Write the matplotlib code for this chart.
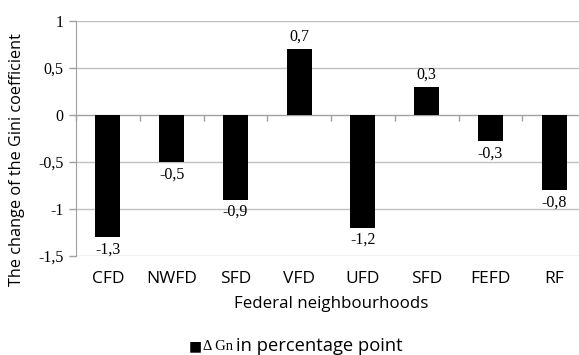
import matplotlib
matplotlib.use("Agg")
import matplotlib.pyplot as plt
import numpy as np

categories = ["CFD", "NWFD", "SFD", "VFD", "UFD", "SFD", "FEFD", "RF"]
values = [-1.3, -0.5, -0.9, 0.7, -1.2, 0.3, -0.28, -0.8]
value_labels = ["-1,3", "-0,5", "-0,9", "0,7", "-1,2", "0,3", "-0,3", "-0,8"]
yticks = [-1.5, -1, -0.5, 0, 0.5, 1]
ytick_labels = ["-1,5", "-1", "-0,5", "0", "0,5", "1"]

SERIF = "Liberation Serif"
SANS = "Open Sans"

fig = plt.figure(figsize=(5.79, 3.55), dpi=100)
ax = fig.add_axes([76/579, 1-256/355, 510/579, 235/355])

x = np.arange(len(categories))
bars = ax.bar(x, values, width=0.39, color="black", zorder=3)

ax.set_xlim(-0.5, len(categories) - 0.5)
ax.set_ylim(-1.5, 1)
ax.set_yticks(yticks)
ax.set_yticklabels(ytick_labels, family=SERIF, fontsize=11.5)
ax.yaxis.grid(True, color="#c0c0c0", linewidth=1, zorder=0)
ax.tick_params(axis="y", length=5, color="#a0a0a0", width=1, pad=4)

# category axis crosses at zero, tick marks between categories
ax.spines["bottom"].set_position(("data", 0))
ax.spines["bottom"].set_color("#a0a0a0")
ax.spines["left"].set_color("#a0a0a0")
ax.spines["top"].set_visible(False)
ax.spines["right"].set_visible(False)
ax.set_xticks(np.arange(len(categories) + 1) - 0.5)
ax.set_xticklabels([])
ax.tick_params(axis="x", length=4, color="#a0a0a0", width=1, direction="out")

sec = ax.secondary_xaxis("bottom")
sec.set_xticks(x)
sec.set_xticklabels(categories, family=SANS, fontsize=12.5)
sec.tick_params(length=0, pad=11)
sec.spines["bottom"].set_visible(False)
sec.set_xlabel("Federal neighbourhoods", family=SANS, fontsize=12.2, labelpad=6)

ax.set_ylabel("The change of the Gini coefficient", family=SANS, fontsize=11.7, va="center")
ax.yaxis.set_label_coords((17 - 76) / 510, (256 - 160) / 235)

ax.bar_label(bars, labels=value_labels, padding=3, family=SERIF, fontsize=11.5, zorder=4)

# legend
ly = 1 - 346 / 355
fig.text(189 / 579, ly, "\u25A0", fontsize=10, family="DejaVu Sans", va="center", ha="left")
fig.text(203 / 579, ly, "\u0394 Gn", fontsize=10.5, family=SERIF, va="center", ha="left")
fig.text(236 / 579, ly, "in percentage point", fontsize=13.2, family=SANS, va="center", ha="left")

fig.savefig("out.png", dpi=100)
